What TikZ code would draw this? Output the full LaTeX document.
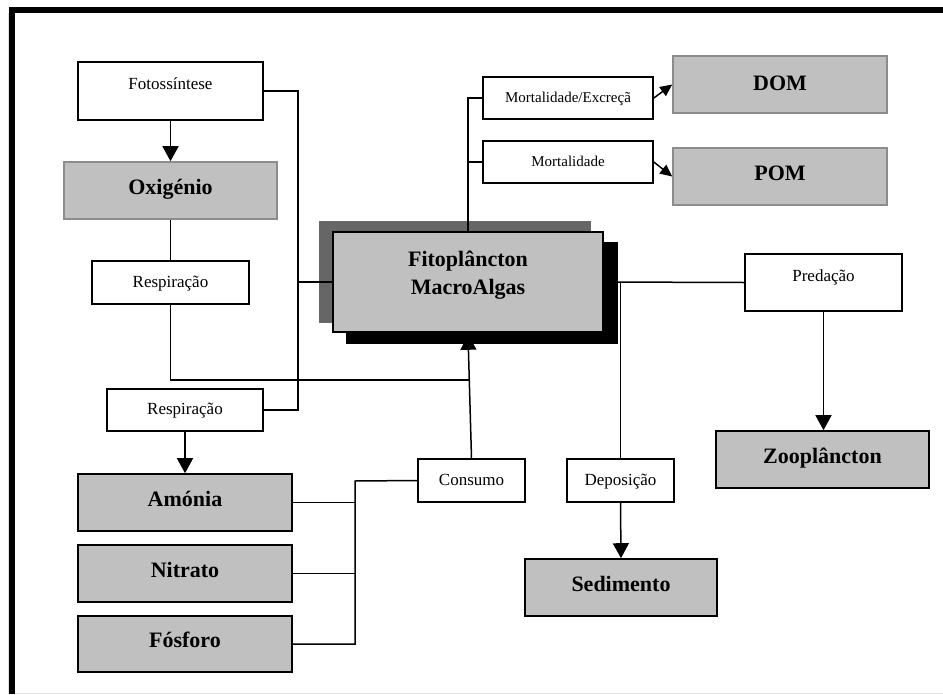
\documentclass[tikz,border=0pt]{standalone}
\usepackage{fontspec}
\setmainfont{Liberation Serif}
\usetikzlibrary{positioning, arrows.meta, backgrounds, calc}
\definecolor{poolGray}{HTML}{C0C0C0}
\definecolor{edgeGray}{HTML}{8C8C8C}
\definecolor{shadeGray}{HTML}{666666}

\begin{document}
\begin{tikzpicture}[x=1pt, y=-1pt,
          proc/.style={draw, line width=1.6pt, fill=white, align=center, inner sep=0pt, text height=12pt, text depth=3pt, font=\fontsize{17}{20}\selectfont},
          small/.style={proc, font=\fontsize{15}{18}\selectfont},
          pool/.style={draw, line width=1.6pt, fill=poolGray, align=center, inner sep=0pt, text height=15pt, text depth=8pt, font=\fontsize{22}{28}\selectfont\bfseries},
          flow/.style={line width=1.5pt},
          arr/.style={flow, -{Triangle[width=16pt, length=15pt]}},
          arrs/.style={flow, -{Triangle[width=11pt, length=12pt]}},
        ]
        \useasboundingbox (0,0) rectangle (943,694);
        % frame
        \draw[black!12, line width=0.8pt] (8,13) -- (8,693) -- (943,693);
        \draw[line width=6pt] (12,694) -- (12,10) -- (943,10);

        % left column
        \node[proc, minimum width=185pt, minimum height=58pt, text depth=16pt] (F) at (170.5,91) {Fotossíntese};
        \node[pool, draw=edgeGray, minimum width=213pt, minimum height=57pt] (O) at (170.5,190.5) {Oxigénio};
        \node[proc, minimum width=157pt, minimum height=43pt] (R1) at (170.5,282.5) {Respiração};
        \node[proc, minimum width=156pt, minimum height=42pt] (R2) at (185,410) {Respiração};
        \node[pool, minimum width=214pt, minimum height=57pt] (A) at (185,502.5) {Amónia};
        \node[pool, minimum width=214pt, minimum height=57pt] (N) at (185,573.5) {Nitrato};
        \node[pool, minimum width=214pt, minimum height=56pt] (Fo) at (185,644) {Fósforo};

        % centre
        \node[pool, minimum width=270pt, minimum height=100pt, text height=35pt, text depth=10pt] (P) at (468,282) {Fitoplâncton\\MacroAlgas};
        \node[proc, minimum width=107pt, minimum height=43pt] (C) at (471.5,480.5) {Consumo};
        \node[proc, minimum width=107pt, minimum height=43pt] (De) at (620.5,480.5) {Deposição};
        \node[pool, minimum width=192pt, minimum height=57pt] (S) at (621,587.5) {Sedimento};

        % right column
        \node[small, minimum width=170pt, minimum height=42pt] (ME) at (568,98) {Mortalidade/Excreçã};
        \node[small, minimum width=170pt, minimum height=42pt] (M) at (568,162) {Mortalidade};
        \node[pool, draw=edgeGray, minimum width=214pt, minimum height=57pt, text depth=4pt] (D) at (780,84.5) {DOM};
        \node[pool, draw=edgeGray, minimum width=214pt, minimum height=57pt] (PO) at (780,176.5) {POM};
        \node[proc, minimum width=157pt, minimum height=57pt, text depth=15pt] (Pr) at (823.5,282.5) {Predação};
        \node[pool, minimum width=213pt, minimum height=57pt] (Z) at (822.5,459.5) {Zooplâncton};

        \coordinate (K) at (298,410);
        \coordinate (J) at (469,380);
        \coordinate (Q) at (355,481);

        % connectors
        \draw[flow] (F.east) -| (K) -- (R2.east);
        \draw[flow] (P.west) -- (P.west -| K);
        \draw[arr] (F.south) -- (O.north);
        \draw[flow] (O.south) -- (R1.north);
        \draw[flow] (R1.south) |- (J);
        \draw[arr] (R2.south) -- (A.north);
        \draw[flow] (Fo.east) -| (Q) -- (C.west);
        \draw[flow] (A.east) -- (A.east -| Q);
        \draw[flow] (N.east) -- (N.east -| Q);
        \draw[flow] (P.east) -- (Pr.west);
        \draw[flow] (De.north) -- (De.north |- Pr.west);
        \draw[arr] (De.south) -- (S.north);
        \draw[arr] (Pr.south) -- (Pr.south |- Z.north);
        \draw[flow, line width=2.5pt] (P.north) -- (P.north |- M.west);
        \draw[flow] (P.north |- M.west) -- (M.west);
        \draw[flow] (P.north |- M.west) -- (P.north |- ME.west) -- (ME.west);
        \draw[arrs] (ME.east) -- (D.west);
        \draw[arrs] (M.east) -- (PO.west);

        % shadows of the centre box
        \begin{scope}[on background layer]
          \draw[arr] (C.north) -- ($(P.south)+(0,2)$);
          \fill[shadeGray] ([shift={(-13,-10)}]P.north west) rectangle ([shift={(-13,-10)}]P.south east);
          \fill[black] ([shift={(14,11)}]P.north west) rectangle ([shift={(14,11)}]P.south east);
        \end{scope}
      \end{tikzpicture}
\end{document}
